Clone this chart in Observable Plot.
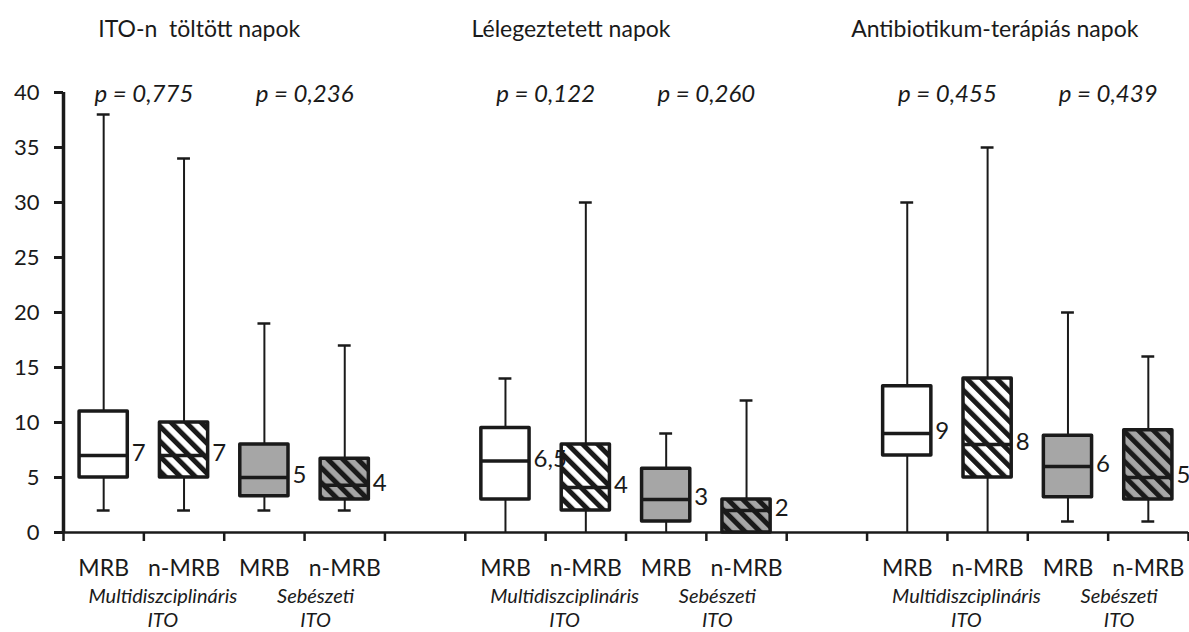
<!DOCTYPE html>
<html>
<head>
<meta charset="utf-8">
<script src="https://cdn.jsdelivr.net/npm/d3@7"></script>
<script src="https://cdn.jsdelivr.net/npm/@observablehq/plot@0.6"></script>
<style>
  html, body { margin: 0; padding: 0; background: #fff; }
</style>
</head>
<body>
<div id="chart"></div>
<script>
// ---------- data ----------
const panelTitles = ["ITO-n  töltött napok", "Lélegeztetett napok", "Antibiotikum-terápiás napok"];
const categories = ["MRB", "n-MRB", "MRB", "n-MRB"];
const unitLabels = ["Multidiszciplináris", "Sebészeti"];
const unitSuffix = "ITO";
const pValues = [["p = 0,775", "p = 0,236"], ["p = 0,122", "p = 0,260"], ["p = 0,455", "p = 0,439"]];
// per panel, per category (MRB multi, n-MRB multi, MRB seb, n-MRB seb)
const mins    = [[2, 2, 2, 2],      [0, 0, 0, 0],       [0, 0, 1, 1]];
const q1s     = [[5, 5, 3.3, 3],    [3, 2, 1, 0],       [7, 5, 3.2, 3]];
const medians = [[7, 7, 5, 4.3],    [6.5, 4.1, 3, 2],   [9, 8, 6, 5]];
const q3s     = [[11, 10, 8, 6.7],  [9.5, 8, 5.8, 3],   [13.3, 14, 8.8, 9.3]];
const maxs    = [[38, 34, 19, 17],  [14, 30, 9, 12],    [30, 35, 20, 16]];
const medianLabels = [["7", "7", "5", "4"], ["6,5", "4", "3", "2"], ["9", "8", "6", "5"]];
const yTicks = [0, 5, 10, 15, 20, 25, 30, 35, 40];

// ---------- styles ----------
const fills = ["white", "url(#hatchW)", "#a6a6a6", "url(#hatchG)"];
const titleDx = [-25, -55, -33];
const unitDx = [19, 11];
const FONT = "Lato, 'Open Sans', sans-serif";
const INK = "#1a1a1a";

// ---------- build table ----------
const slotsPerPanel = 5; // 4 boxes + 1 empty slot
const rows = [];
panelTitles.forEach((t, p) => {
  categories.forEach((c, k) => {
    const slot = p * slotsPerPanel + k;
    rows.push({
      slot, cat: c, panel: p, k,
      xc: slot + 0.5, x1: slot + 0.2, x2: slot + 0.8,
      min: mins[p][k], q1: q1s[p][k], med: medians[p][k], q3: q3s[p][k], max: maxs[p][k],
      label: medianLabels[p][k], fill: fills[k]
    });
  });
});
const nSlots = panelTitles.length * slotsPerPanel - 1;
const pRows = [];
pValues.forEach((pair, p) => pair.forEach((txt, j) => pRows.push({x: p * slotsPerPanel + 1 + 2 * j, txt, j})));
const titleRows = panelTitles.map((t, p) => ({x: p * slotsPerPanel + 2, t, p}));
const capW = 0.08;

const plot = Plot.plot({
  width: 1189,
  height: 632,
  marginLeft: 63,
  marginRight: 1,
  marginTop: 92,
  marginBottom: 100,
  x: {domain: [0, nSlots], axis: null},
  y: {domain: [0, 40], axis: null},
  color: {type: "identity"},
  style: {fontFamily: FONT, color: INK, background: "white", overflow: "visible"},
  marks: [
    // whiskers
    Plot.ruleX(rows, {x: "xc", y1: "min", y2: "q1", stroke: INK, strokeWidth: 2}),
    Plot.ruleX(rows, {x: "xc", y1: "q3", y2: "max", stroke: INK, strokeWidth: 2}),
    Plot.ruleY(rows.filter(d => d.min > 0), {y: "min", x1: d => d.xc - capW, x2: d => d.xc + capW, stroke: INK, strokeWidth: 2.5}),
    Plot.ruleY(rows, {y: "max", x1: d => d.xc - capW, x2: d => d.xc + capW, stroke: INK, strokeWidth: 2.5}),
    // boxes
    Plot.rect(rows, {x1: "x1", x2: "x2", y1: "q1", y2: "q3", fill: "fill", stroke: INK, strokeWidth: 3.5, strokeLinejoin: "round"}),
    Plot.ruleY(rows, {y: "med", x1: "x1", x2: "x2", stroke: INK, strokeWidth: 3.5}),
    // median labels
    Plot.text(rows, {x: "x2", y: "med", text: "label", textAnchor: "start", dx: 4, dy: -2, fontSize: 24, fill: INK}),
    // axes
    Plot.axisY({ticks: yTicks, tickSize: 9, tickPadding: 15, fontSize: 22, strokeWidth: 3, fill: INK, stroke: INK}),
    Plot.axisX({ticks: d3.range(0, nSlots + 1), tickSize: 9, tickFormat: () => "", strokeWidth: 2.5, stroke: INK}),
    Plot.ruleY([0], {stroke: INK, strokeWidth: 2.5}),
    Plot.ruleX([0], {y1: 0, y2: 40, stroke: INK, strokeWidth: 3.5}),
    // category labels
    Plot.text(rows, {x: "xc", y: 0, text: "cat", dy: 36, fontSize: 23, fill: INK}),
    // unit labels (two-line text)
    ...unitLabels.map((u, j) => Plot.text(pRows.filter(d => d.j === j), {
      x: "x", y: 0, text: () => u + "\n" + unitSuffix, dy: 75, dx: unitDx[j],
      lineHeight: 1.2, fontSize: 20, fontStyle: "italic", letterSpacing: 1, fill: INK
    })),
    // p-values
    Plot.text(pRows, {x: "x", y: 40, text: "txt", dy: 2, fontSize: 24, fontStyle: "italic", fill: INK}),
    // titles
    ...titleRows.map(r => Plot.text([r], {x: "x", y: 40, text: "t", dy: -63, dx: titleDx[r.p], fontSize: 23, fill: INK}))
  ]
});

document.getElementById("chart").appendChild(plot);

const svg = d3.select(plot);
const defs = svg.insert("defs", ":first-child");
function hatch(id, bg) {
  const s = 10.6;
  const pat = defs.append("pattern")
    .attr("id", id)
    .attr("patternUnits", "userSpaceOnUse")
    .attr("width", s).attr("height", s)
    .attr("patternTransform", "rotate(-45)");
  pat.append("rect").attr("width", s).attr("height", s).attr("fill", bg);
  pat.append("rect").attr("width", 5).attr("height", s).attr("fill", INK);
}
hatch("hatchW", "white");
hatch("hatchG", "#a6a6a6");
</script>
</body>
</html>
